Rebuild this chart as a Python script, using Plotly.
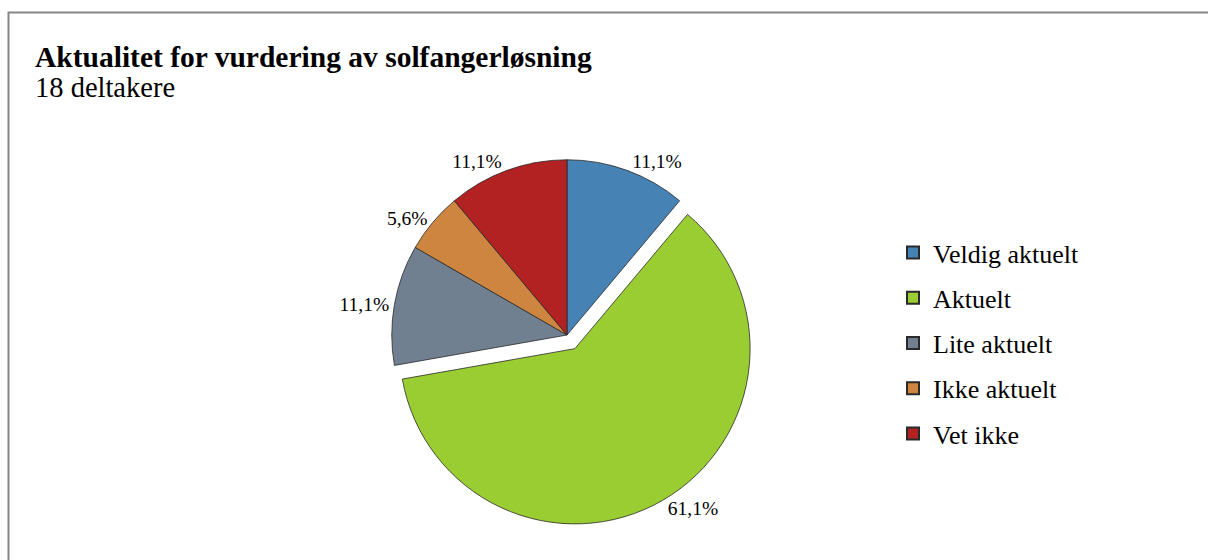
import plotly.graph_objects as go

categories = ["Veldig aktuelt", "Aktuelt", "Lite aktuelt", "Ikke aktuelt", "Vet ikke"]
counts = [2, 11, 2, 1, 2]
colors = ["#4682B4", "#9ACD32", "#708090", "#CD853F", "#B22222"]
pulls = [0, 0.09, 0, 0, 0]

W, H = 1208, 560
FONT = "Liberation Serif, Times New Roman, serif"

fig = go.Figure()

cx, cy, R = 567, 335, 191
fig.add_trace(go.Pie(
    labels=categories, values=counts, sort=False, direction="clockwise", rotation=0,
    pull=pulls,
    marker=dict(colors=colors, line=dict(color="#2a2a2a", width=0.8)),
    textposition="outside", texttemplate="%{percent:.1%}",
    textfont=dict(family=FONT, size=19.5, color="#000"),
    showlegend=False, hoverinfo="label+percent",
    domain=dict(x=[(cx - R) / W, (cx + R) / W], y=[1 - (cy + R) / H, 1 - (cy - R) / H]),
))

for c, col in zip(categories, colors):
    fig.add_trace(go.Scatter(
        x=[None], y=[None], mode="markers", name=c, legendgroup=c,
        marker=dict(symbol="square", size=13, color=col, line=dict(color="#2a2a2a", width=1)),
    ))

fig.update_layout(
    width=W, height=H, margin=dict(l=0, r=0, t=0, b=0),
    paper_bgcolor="white", plot_bgcolor="white",
    separators=", ",
    xaxis=dict(visible=False), yaxis=dict(visible=False),
    legend=dict(x=893 / W, y=1 - 229 / H, xanchor="left", yanchor="top",
                font=dict(family=FONT, size=26, color="#000"),
                tracegroupgap=8.5, itemsizing="constant", bgcolor="rgba(0,0,0,0)"),
    shapes=[dict(type="rect", xref="paper", yref="paper",
                 x0=8.5 / W, x1=1.01, y0=-0.05, y1=1 - 12.5 / H,
                 line=dict(color="#868686", width=2), fillcolor="rgba(0,0,0,0)")],
    annotations=[
        dict(text="<b>Aktualitet for vurdering av solfangerløsning</b>", xref="paper", yref="paper",
             x=33 / W, y=1 - 75 / H, xanchor="left", yanchor="bottom", showarrow=False,
             font=dict(family=FONT, size=29.5, color="#000")),
        dict(text="18 deltakere", xref="paper", yref="paper",
             x=33 / W, y=1 - 105 / H, xanchor="left", yanchor="bottom", showarrow=False,
             font=dict(family=FONT, size=28.5, color="#000")),
    ],
)

fig.write_html("out.html")
